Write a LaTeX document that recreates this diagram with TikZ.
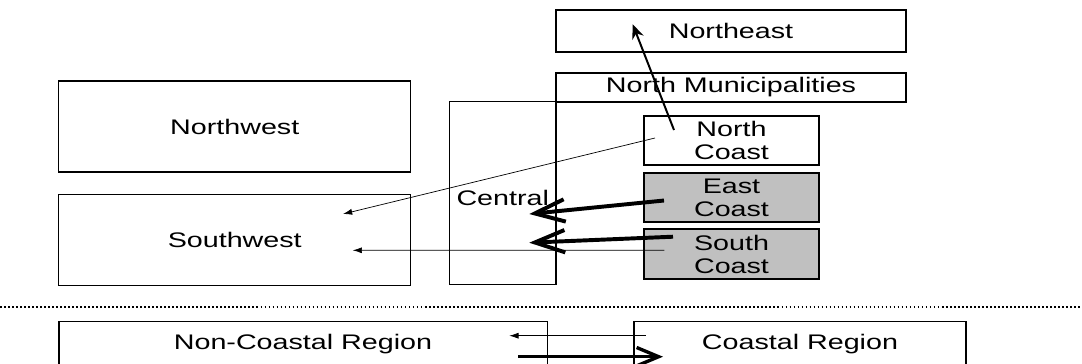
\documentclass[tikz,border=0pt]{standalone}
\usepackage{fontspec}
\setmainfont{Liberation Sans}[FakeStretch=1.36]
\usepackage{tikz}
\usetikzlibrary{positioning}
\usetikzlibrary{calc}
\usetikzlibrary{arrows.meta}
\definecolor{coastgray}{RGB}{192,192,192}
\tikzset{
b/.style={
  rectangle,
  inner sep=0pt,
  align=center,
  draw=black,
  line width=0.8pt,
  fill=white
  },
g/.style={
  b,
  fill=coastgray
  }
}
\tikzset{
ta/.style={-{Latex[length=2.3mm,width=1.5mm]},line width=0.5pt},
ma/.style={-{Stealth[length=3.6mm,width=3mm]},line width=1.4pt},
ka/.style={-{Straight Barb[length=7.5mm,width=5.6mm]},line width=2.8pt},
kb/.style={-{Straight Barb[length=5.5mm,width=4.6mm]},line width=2.4pt}
}

\begin{document}
\begin{tikzpicture}[x=0.025cm,y=-0.025cm,font=\fontsize{15}{16.3}\selectfont]
            \clip (0,0) rectangle (1082,363);
            % upper part
            \node[b,minimum width=8.75cm,minimum height=1.05cm] (ne) at (731,31) {Northeast};
            \node[b,minimum width=8.75cm,minimum height=0.725cm] (nm) at (731,87.5) {North Municipalities};
            \node[b,minimum width=2.66cm,minimum height=4.575cm,
                  label={[yshift=-0.125cm]center:Central}] (cen) at (502.75,193) {};
            \node[b,minimum width=8.79cm,minimum height=2.275cm] (nw) at (234.75,126.5) {Northwest};
            \node[b,minimum width=8.79cm,minimum height=2.29cm] (sw) at (234.75,240) {Southwest};
            \node[b,minimum width=4.375cm,minimum height=1.225cm] (nc) at (731.5,140.5) {North\\Coast};
            \node[g,minimum width=4.375cm,minimum height=1.225cm] (ec) at (731.5,197.5) {East\\Coast};
            \node[g,minimum width=4.375cm,minimum height=1.25cm] (sc) at (731.5,254) {South\\Coast};
            % separator
            \coordinate (dl) at (0,307);
            \coordinate (dr) at (1082,307);
            \draw[line width=1.2pt,dash pattern=on 1.2pt off 1.65pt] (dl) -- (dr);
            % lower part
            \node[b,minimum width=12.2cm,minimum height=1.115cm] (ncr) at (303,344) {Non-Coastal Region};
            \node[b,minimum width=8.3cm,minimum height=1.115cm] (cr) at (800,344) {Coastal Region};
            \path
            ([shift={(-57.5,-10.5)}]nc.center) edge [ma] ([shift={(-98.3,-6.7)}]ne.center)
            ([shift={(-76.5,-2.5)}]nc.center) edge [ta] ([shift={(108.25,-26)}]sw.center)
            ([shift={(-67.5,3)}]ec.center) edge [ka] ([shift={(26.5,21)}]cen.center)
            ([shift={(-58.5,-17.3)}]sc.center) edge [ka] ([shift={(26.5,49.7)}]cen.center)
            ([shift={(-67.2,-3.7)}]sc.center) edge [ta] ([shift={(118,10.3)}]sw.center)
            ([shift={(-154.3,-8.3)}]cr.center) edge [ta] ([shift={(206.3,-8.3)}]ncr.center)
            ([shift={(215.3,12.7)}]ncr.center) edge [kb] ([shift={(-137,12.7)}]cr.center)
            ;
        \end{tikzpicture}
\end{document}
